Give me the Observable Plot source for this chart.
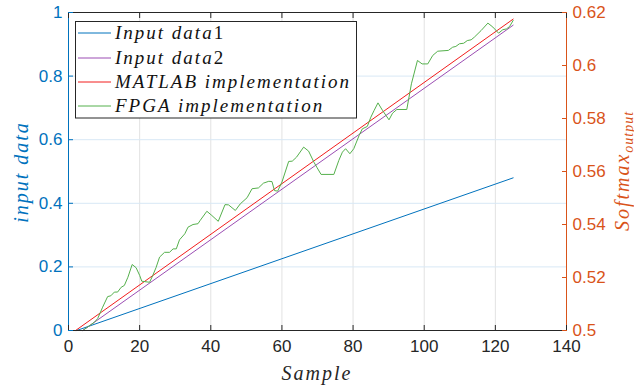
<!DOCTYPE html>
<html><head><meta charset="utf-8">
<script src="https://cdn.jsdelivr.net/npm/d3@7"></script>
<script src="https://cdn.jsdelivr.net/npm/@observablehq/plot@0.6"></script>
<style>
body{margin:0;background:#fff;}
</style></head><body><div id="wrap"></div><script>
// ---- data ----
const xTicks = [0, 20, 40, 60, 80, 100, 120, 140];
const leftTicks = [0, 0.2, 0.4, 0.6, 0.8, 1];
const rightTicks = [0.5, 0.52, 0.54, 0.56, 0.58, 0.6, 0.62];
const seriesNames = ["Input data1", "Input data2", "MATLAB implementation", "FPGA implementation"];

const input1X = [2.3, 125];
const input1Y = [0, 0.48];
const input2X = [4, 125];
const input2Y = [0, 0.96];
// softmax output (right axis)
const matlabX = [2, 125];
const matlabY = [0.5, 0.6175];
const fpgaX = [1.6,4.0,7.25,8.2,9.6,11.0,11.9,12.9,13.8,14.8,15.7,16.7,17.9,19.0,20.0,20.6,22.8,23.7,24.6,25.6,27.0,28.4,29.4,30.3,31.2,32.7,33.6,35.0,36.4,37.0,38.9,40.3,42.1,44.0,45.0,46.9,48.3,50.2,51.6,53.4,54.8,56.3,57.2,57.9,58.8,60.0,61.9,62.9,64.1,66.1,67.5,69.0,69.9,71.0,74.6,76.0,77.0,77.9,79.1,80.2,81.7,82.6,84.0,85.0,85.9,87.0,88.3,90.1,91.1,92.3,95.1,96.4,98.1,99.4,101.0,102.4,103.8,106.8,108.0,108.9,109.9,111.1,112.1,113.2,114.1,116.0,117.9,119.3,120.9,122.1,123.1,124.0,125.0];
const fpgaY = [0.5000,0.5000,0.5031,0.5045,0.5088,0.5128,0.5131,0.5145,0.5145,0.5163,0.5170,0.5201,0.5249,0.5237,0.5208,0.5186,0.5182,0.5208,0.5237,0.5277,0.5295,0.5295,0.5308,0.5308,0.5342,0.5365,0.5390,0.5400,0.5403,0.5415,0.5450,0.5434,0.5412,0.5475,0.5474,0.5453,0.5478,0.5501,0.5535,0.5538,0.5556,0.5563,0.5562,0.5528,0.5526,0.5560,0.5638,0.5639,0.5654,0.5692,0.5677,0.5635,0.5614,0.5589,0.5589,0.5642,0.5673,0.5686,0.5667,0.5686,0.5736,0.5761,0.5770,0.5805,0.5830,0.5859,0.5830,0.5795,0.5820,0.5834,0.5834,0.5931,0.6019,0.6006,0.6006,0.6038,0.6054,0.6057,0.6069,0.6072,0.6082,0.6084,0.6094,0.6097,0.6107,0.6132,0.6160,0.6145,0.6122,0.6135,0.6138,0.6147,0.6170];

// ---- styles ----
const C = {blue: "#0072BD", purple: "#9b4db3", red: "#f21d1d", green: "#55b04c", orange: "#D95319", dark: "#262626"};
const colors = [C.blue, C.purple, C.red, C.green];
const rMin = 0.5, rMax = 0.62;
const toLeft = v => (v - rMin) / (rMax - rMin);
const pts = (xs, ys, f = d => d) => xs.map((x, i) => ({x, y: f(ys[i])}));

const chart = Plot.plot({
  width: 634, height: 391,
  marginLeft: 68, marginRight: 68, marginTop: 12, marginBottom: 61,
  style: {fontFamily: "Liberation Sans, Arial, sans-serif", fontSize: "17px", background: "white", overflow: "visible"},
  x: {domain: [0, 140]},
  y: {domain: [0, 1]},
  marks: [
    Plot.ruleX(xTicks, {stroke: "#e2e2e2", strokeWidth: 1}),
    Plot.ruleY(leftTicks, {stroke: "#d8e8f5", strokeWidth: 1}),
    Plot.line(pts(input1X, input1Y), {x: "x", y: "y", stroke: C.blue, strokeWidth: 1}),
    Plot.line(pts(input2X, input2Y), {x: "x", y: "y", stroke: C.purple, strokeWidth: 1}),
    Plot.line(pts(matlabX, matlabY, toLeft), {x: "x", y: "y", stroke: C.red, strokeWidth: 1}),
    Plot.line(pts(fpgaX, fpgaY, toLeft), {x: "x", y: "y", stroke: C.green, strokeWidth: 1}),
    Plot.ruleY([0], {stroke: C.dark}),
    Plot.ruleY([1], {stroke: C.dark}),
    Plot.ruleX([0], {stroke: C.blue}),
    Plot.ruleX([140], {stroke: C.orange}),
    Plot.axisX({ticks: xTicks, tickSize: -5, tickPadding: 14, color: C.dark, label: null, tickFormat: d => String(d)}),
    Plot.axisX({anchor: "top", ticks: xTicks, tickSize: -5, tickPadding: 10, color: C.dark, label: null, tickFormat: () => ""}),
    Plot.axisY({ticks: leftTicks, tickSize: -5, tickPadding: 11, color: C.blue, label: null, tickFormat: d => String(+d.toFixed(1))}),
    Plot.axisY({anchor: "right", ticks: rightTicks.map(toLeft), tickSize: -5, tickPadding: 11, color: C.orange, label: null,
      tickFormat: d => String(+(d * (rMax - rMin) + rMin).toFixed(2))})
  ]
});
document.getElementById("wrap").appendChild(chart);

const svg = d3.select(chart);
const serif = "Liberation Serif, DejaVu Serif, serif";
const styl = (sel, size, ls) => sel.attr("font-family", serif).style("font-family", serif)
  .attr("font-style", "italic").style("font-size", size + "px").style("letter-spacing", ls + "px");

// axis labels
styl(svg.append("text").attr("transform", "translate(28,172) rotate(-90)")
  .attr("text-anchor", "middle").attr("fill", C.blue), 20, 2).text("input data");
styl(svg.append("text").attr("x", 317).attr("y", 380)
  .attr("text-anchor", "middle").attr("fill", C.dark), 20, 2).text("Sample");
const sm = styl(svg.append("text").attr("transform", "translate(629,171) rotate(-90)")
  .attr("text-anchor", "middle").attr("fill", C.orange), 20, 2);
sm.append("tspan").text("Softmax");
sm.append("tspan").attr("dy", 4).style("font-size", "14px").style("letter-spacing", "1px").text("output");

// legend
const lg = svg.append("g").attr("text-anchor", "start");
lg.append("rect").attr("x", 75.5).attr("y", 21.5).attr("width", 281).attr("height", 96.5)
  .attr("fill", "white").attr("stroke", C.dark).attr("stroke-width", 1);
const rows = [33, 58, 82, 106];
seriesNames.forEach((name, i) => {
  const y = rows[i];
  lg.append("line").attr("x1", 78).attr("x2", 111).attr("y1", y).attr("y2", y)
    .attr("stroke", colors[i]).attr("stroke-width", 1);
  const t = lg.append("text").attr("x", 115).attr("y", y + 6).attr("text-anchor", "start")
    .attr("fill", "#111").attr("font-family", serif).style("font-family", serif)
    .style("font-size", "19px").style("letter-spacing", "2px");
  const m = name.match(/^(.*?)(\d*)$/);
  t.append("tspan").style("font-style", "italic").text(m[1]);
  if (m[2]) t.append("tspan").style("font-style", "normal").text(m[2]);
});
</script></body></html>
